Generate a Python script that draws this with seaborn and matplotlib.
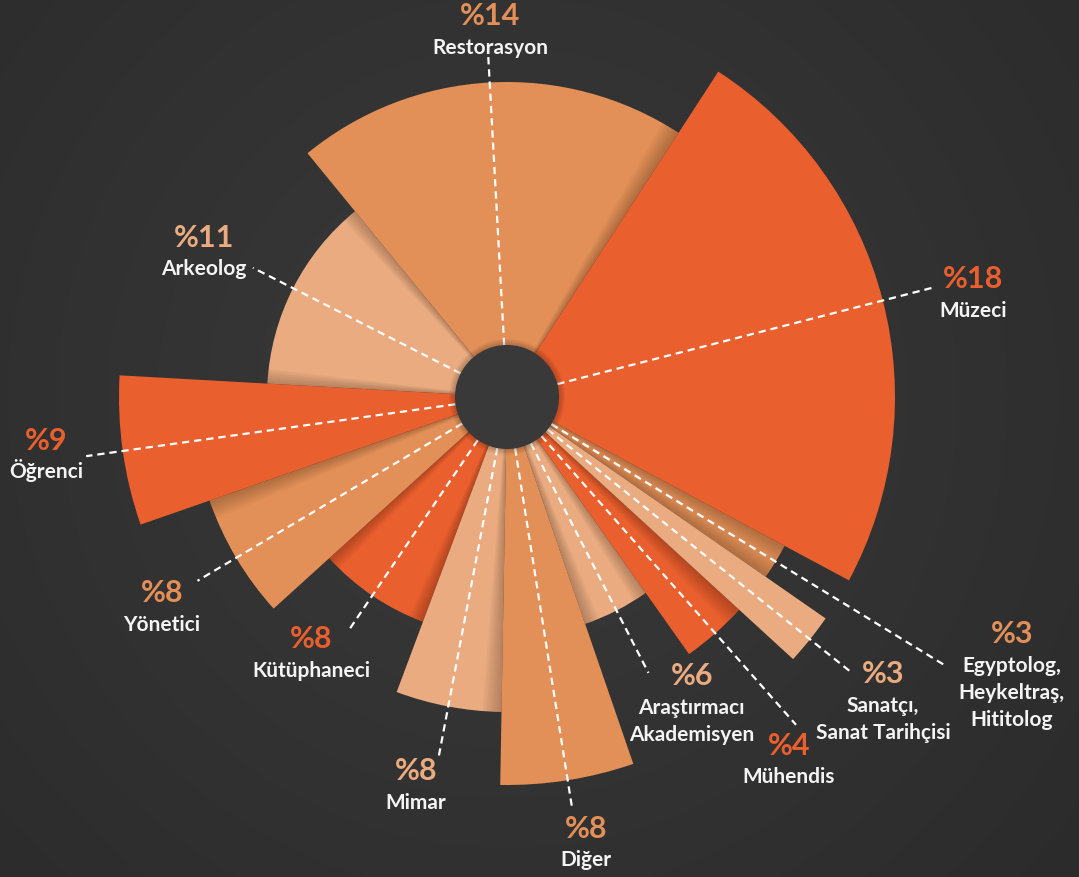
import numpy as np
import matplotlib
matplotlib.use("Agg")
import matplotlib.pyplot as plt
import seaborn as sns

# --- data -------------------------------------------------------------
categories = [
    "Restorasyon", "Müzeci", "Egyptolog,\nHeykeltraş,\nHititolog",
    "Sanatçı,\nSanat Tarihçisi", "Mühendis", "Araştırmacı\nAkademisyen",
    "Diğer", "Mimar", "Kütüphaneci", "Yönetici", "Öğrenci", "Arkeolog",
]
percent = [14, 18, 3, 3, 4, 6, 8, 8, 8, 8, 9, 11]

# --- layout of the rose (degrees clockwise from north, radii in px) ---
start_deg = -39.3
span_deg = [72.3, 85.2, 6.6, 7.7, 12.2, 16.3, 20.0, 19.5, 27.3, 23.0, 22.4, 47.5]
tier = [2, 3, 2, 3, 2, 1, 3, 2, 1, 2, 3, 1]
tone = ["mid", "bright", "mid", "light", "bright", "light",
        "mid", "light", "bright", "mid", "bright", "light"]
leader_r = [341, 439, 516, 441, 437, 310, 418, 368, 283, 360, 425, 285]
label_theta = [-2.5, 75.6, 115.0, 126.2, 140.9, 146.3, 169.6, 193.75, 219.2, 240.65, 264.8, 298.0]
label_r = [383, 481, 557, 466, 447, 333, 437, 383, 310, 396, 463, 343]

palette = {"bright": "#E95F2E", "mid": "#E38F58", "light": "#EAAB80"}
HOLE_R = 52
TIER_R = {1: 240, 2: 315, 3: 388}

W, H, DPI = 1079, 878, 100
CX, CY = 507, 398          # rose centre in pixels (from top-left)
AX_R = 420                 # axes radius in pixels

sns.set_theme(style="white")
plt.rcParams["font.family"] = ["Lato", "DejaVu Sans"]

fig = plt.figure(figsize=(W / DPI, H / DPI), dpi=DPI)

# dark radial backdrop
bg = fig.add_axes([0, 0, 1, 1])
yy, xx = np.mgrid[0:H, 0:W]
d = np.clip(np.hypot(xx - CX, yy - CY) / 750.0, 0, 1)
c0 = np.array([0x3a, 0x3a, 0x3a]) / 255
c1 = np.array([0x2b, 0x2b, 0x2b]) / 255
img = c0[None, None, :] * (1 - d)[..., None] + c1[None, None, :] * d[..., None]
bg.imshow(img, extent=(0, W, H, 0), aspect="auto", interpolation="bilinear")
bg.set_axis_off()

ax = fig.add_axes([(CX - AX_R) / W, (H - CY - AX_R) / H, 2 * AX_R / W, 2 * AX_R / H],
                  projection="polar")
ax.set_theta_zero_location("N")
ax.set_theta_direction(-1)
ax.set_ylim(0, AX_R)
ax.set_facecolor("none")
ax.grid(False)
ax.set_xticks([])
ax.set_yticks([])
ax.spines["polar"].set_visible(False)

n = len(categories)
edges = start_deg + np.concatenate([[0], np.cumsum(span_deg)])
mids = (edges[:-1] + edges[1:]) / 2
radii = [TIER_R[t] for t in tier]

for i in range(n):
    zi = 3 + 0.1 * tier[i]
    ax.bar(np.deg2rad(mids[i]), radii[i], width=np.deg2rad(span_deg[i]), bottom=0,
           color=palette[tone[i]], linewidth=0, zorder=zi)
    # soft shadow cast onto a shorter neighbour on each side
    for side, nb in ((-1, (i - 1) % n), (1, (i + 1) % n)):
        if radii[nb] >= radii[i]:
            continue
        edge = edges[i] if side < 0 else edges[i + 1]
        for e in np.linspace(0.5, 3.5, 8):
            ax.bar(np.deg2rad(edge + side * e / 2), radii[nb], width=np.deg2rad(e),
                   bottom=0, color="black", alpha=0.028, linewidth=0, zorder=zi - 0.05)

# dotted leader lines
for i in range(n):
    th = np.deg2rad(mids[i])
    ax.plot([th, th], [HOLE_R, leader_r[i]], color="white", lw=1.6,
            linestyle=(0, (3.3, 2.2)), zorder=4, clip_on=False,
            dash_capstyle="butt")

# centre hole with a soft rim shadow
tt = np.linspace(0, 2 * np.pi, 400)
for k in range(1, 7):
    ax.fill(tt, np.full_like(tt, HOLE_R + k), color="black", alpha=0.035,
            linewidth=0, zorder=5)
ax.fill(tt, np.full_like(tt, HOLE_R), color="#393939", linewidth=0, zorder=6)

# labels
PX = 72 / DPI
for i, name in enumerate(categories):
    xy = (np.deg2rad(label_theta[i]), label_r[i])
    ax.annotate(f"%{percent[i]}", xy=xy, xytext=(0, -10 * PX), textcoords="offset points",
                ha="center", va="baseline", fontsize=22, fontweight="bold",
                color=palette[tone[i]], annotation_clip=False, zorder=7)
    for j, line in enumerate(name.split("\n")):
        ax.annotate(line, xy=xy, xytext=(0, -(38.5 + 27 * j) * PX),
                    textcoords="offset points", ha="center", va="baseline",
                    fontsize=15, fontweight="bold", color="#F4F4F4",
                    annotation_clip=False, zorder=7)

fig.savefig("out.png", dpi=DPI)
